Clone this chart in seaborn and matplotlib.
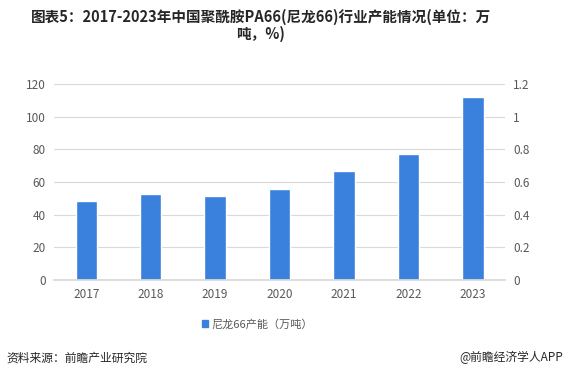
import matplotlib
matplotlib.use('Agg')
import matplotlib.pyplot as plt
import pandas as pd
import seaborn as sns

# data
years = ['2017', '2018', '2019', '2020', '2021', '2022', '2023']
capacity = [48.4, 52.7, 51.4, 55.7, 66.7, 77.2, 112.0]
left_ticks = [0, 20, 40, 60, 80, 100, 120]
right_ticks = [0, 0.2, 0.4, 0.6, 0.8, 1.0, 1.2]
right_labels = ['0', '0.2', '0.4', '0.6', '0.8', '1', '1.2']

df = pd.DataFrame({'year': years, 'value': capacity})

sns.set_theme(style='white')
plt.rcParams['font.family'] = ['Noto Sans CJK SC', 'DejaVu Sans']

fig = plt.figure(figsize=(5.66, 3.82), dpi=100)
ax = fig.add_axes([0.0954, 0.267, 0.797, 0.513])

bar_color = '#3A80DD'
sns.barplot(data=df, x='year', y='value', color=bar_color, width=0.33,
            saturation=1, ax=ax)

ax.set_ylim(0, 120)
ax.set_yticks(left_ticks)
ax.set_xlabel('')
ax.set_ylabel('')
ax.grid(axis='y', color='#D9D9D9', linewidth=0.8)
ax.set_axisbelow(True)
for s in ['top', 'right', 'left']:
    ax.spines[s].set_visible(False)
ax.spines['bottom'].set_color('#D9D9D9')
ax.tick_params(axis='both', length=0, labelsize=8.5, colors='#595959', pad=6)

# right-hand axis only carries the 0-1.2 scale, no data
ax2 = ax.twinx()
ax2.set_ylim(0, 1.2)
ax2.set_yticks(right_ticks)
ax2.set_yticklabels(right_labels)
for s in ax2.spines.values():
    s.set_visible(False)
ax2.tick_params(axis='y', length=0, labelsize=8.5, colors='#595959', pad=6)

fig.text(0.461, 0.955, '图表5：2017-2023年中国聚酰胺PA66(尼龙66)行业产能情况(单位：万',
         ha='center', va='center', fontsize=10.5, fontweight='bold', color='#262626')
fig.text(0.461, 0.91, '吨，%)', ha='center', va='center', fontsize=10.5,
         fontweight='bold', color='#262626')

handle = plt.Rectangle((0, 0), 1, 1, color=bar_color)
fig.legend([handle], ['尼龙66产能（万吨）'], loc='center', bbox_to_anchor=(0.455, 0.152),
           frameon=False, fontsize=8, handlelength=0.6, handleheight=0.6,
           handletextpad=0.3, labelcolor='#595959')

fig.text(0.012, 0.063, '资料来源：前瞻产业研究院', ha='left', va='center',
         fontsize=8.5, color='#262626')
fig.text(0.995, 0.063, '@前瞻经济学人APP', ha='right', va='center',
         fontsize=8.5, color='#262626')

fig.savefig('out.png', dpi=100)
